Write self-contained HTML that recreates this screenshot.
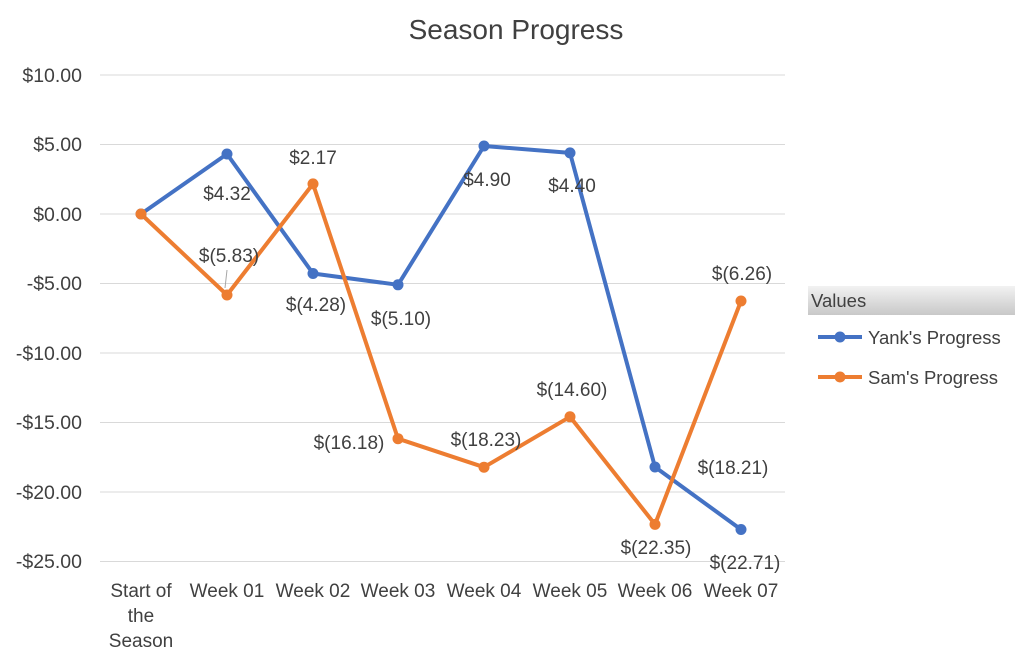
<!DOCTYPE html>
<html><head><meta charset="utf-8"><style>
body{margin:0;background:#fff;}
svg text{font-family:"Liberation Sans",sans-serif;fill:#404040;}
</style></head><body>
<svg width="1024" height="661" viewBox="0 0 1024 661" xmlns="http://www.w3.org/2000/svg">
<rect width="1024" height="661" fill="#fff"/>
<text x="516" y="39" font-size="28" text-anchor="middle" fill="#595959">Season Progress</text>
<g stroke="#d9d9d9" stroke-width="1">
<line x1="100" x2="785" y1="75" y2="75"/>
<line x1="100" x2="785" y1="144.5" y2="144.5"/>
<line x1="100" x2="785" y1="214" y2="214"/>
<line x1="100" x2="785" y1="283.5" y2="283.5"/>
<line x1="100" x2="785" y1="353" y2="353"/>
<line x1="100" x2="785" y1="422.5" y2="422.5"/>
<line x1="100" x2="785" y1="492" y2="492"/>
<line x1="100" x2="785" y1="561.5" y2="561.5"/>
</g>
<g font-size="19.5" text-anchor="end">
<text x="82" y="82">$10.00</text>
<text x="82" y="151">$5.00</text>
<text x="82" y="221">$0.00</text>
<text x="82" y="290">-$5.00</text>
<text x="82" y="360">-$10.00</text>
<text x="82" y="429">-$15.00</text>
<text x="82" y="499">-$20.00</text>
<text x="82" y="568">-$25.00</text>
</g>
<g font-size="19" text-anchor="middle">
<text x="141" y="597">Start of</text><text x="141" y="622">the</text><text x="141" y="647">Season</text>
<text x="227" y="597">Week 01</text>
<text x="313" y="597">Week 02</text>
<text x="398" y="597">Week 03</text>
<text x="484" y="597">Week 04</text>
<text x="570" y="597">Week 05</text>
<text x="655" y="597">Week 06</text>
<text x="741" y="597">Week 07</text>
</g>
<polyline fill="none" stroke="#4472c4" stroke-width="4" stroke-linejoin="round" points="141,214 227,154 313,273.5 398,284.8 484,146 570,152.9 655,467 741,529.5"/>
<polyline fill="none" stroke="#ed7d31" stroke-width="4" stroke-linejoin="round" points="141,214 227,295 313,183.9 398,438.7 484,467.2 570,416.8 655,524.4 741,301"/>
<g fill="#4472c4">
<circle cx="141" cy="214" r="5.5"/><circle cx="227" cy="154" r="5.5"/><circle cx="313" cy="273.5" r="5.5"/><circle cx="398" cy="284.8" r="5.5"/><circle cx="484" cy="146" r="5.5"/><circle cx="570" cy="152.9" r="5.5"/><circle cx="655" cy="467" r="5.5"/><circle cx="741" cy="529.5" r="5.5"/>
</g>
<g fill="#ed7d31">
<circle cx="141" cy="214" r="5.5"/><circle cx="227" cy="295" r="5.5"/><circle cx="313" cy="183.9" r="5.5"/><circle cx="398" cy="438.7" r="5.5"/><circle cx="484" cy="467.2" r="5.5"/><circle cx="570" cy="416.8" r="5.5"/><circle cx="655" cy="524.4" r="5.5"/><circle cx="741" cy="301" r="5.5"/>
</g>
<line x1="227" y1="270" x2="225" y2="288" stroke="#a6a6a6" stroke-width="1"/>
<g font-size="19" text-anchor="middle">
<text x="227" y="200">$4.32</text>
<text x="316" y="311">$(4.28)</text>
<text x="401" y="325">$(5.10)</text>
<text x="487" y="186">$4.90</text>
<text x="572" y="192">$4.40</text>
<text x="733" y="474">$(18.21)</text>
<text x="745" y="569">$(22.71)</text>
<text x="229" y="262">$(5.83)</text>
<text x="313" y="164">$2.17</text>
<text x="349" y="449">$(16.18)</text>
<text x="486" y="446">$(18.23)</text>
<text x="572" y="396">$(14.60)</text>
<text x="656" y="554">$(22.35)</text>
<text x="742" y="280">$(6.26)</text>
</g>
<defs><linearGradient id="g" x1="0" x2="0" y1="0" y2="1"><stop offset="0" stop-color="#f2f2f2"/><stop offset="1" stop-color="#c8c8c8"/></linearGradient></defs>
<rect x="808" y="286" width="207" height="29" fill="url(#g)"/>
<text x="811" y="307" font-size="18.5" fill="#000">Values</text>
<line x1="818" x2="862" y1="337" y2="337" stroke="#4472c4" stroke-width="4"/>
<circle cx="840" cy="337" r="5.5" fill="#4472c4"/>
<text x="868" y="344" font-size="18.5">Yank's Progress</text>
<line x1="818" x2="862" y1="377" y2="377" stroke="#ed7d31" stroke-width="4"/>
<circle cx="840" cy="377" r="5.5" fill="#ed7d31"/>
<text x="868" y="384" font-size="18.5">Sam's Progress</text>
</svg>
</body></html>
